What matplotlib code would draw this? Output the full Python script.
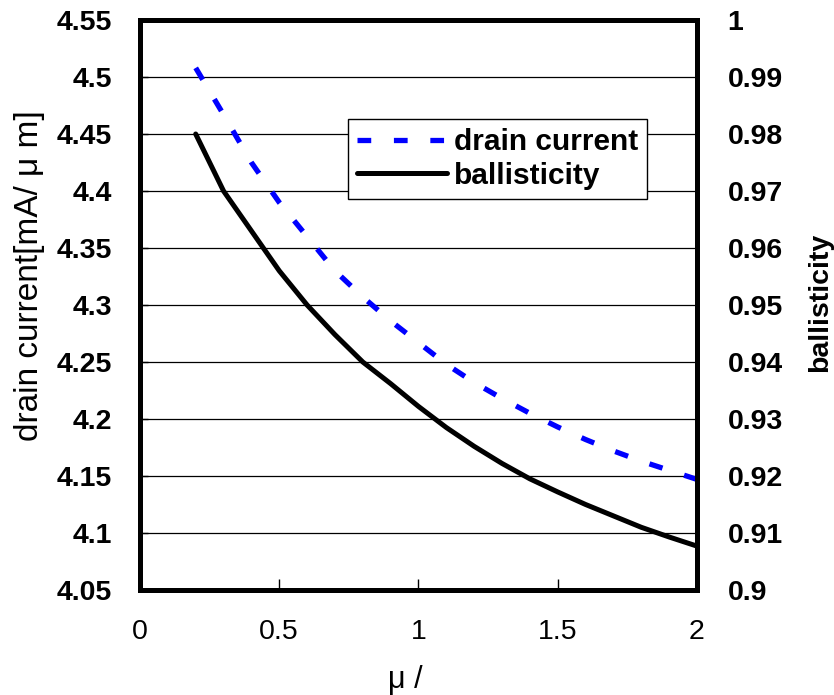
import matplotlib
matplotlib.use("Agg")
import matplotlib.pyplot as plt
from matplotlib.lines import Line2D

mu = [0.2, 0.3, 0.4, 0.5, 0.6, 0.7, 0.8, 0.9, 1.0, 1.1, 1.2, 1.3, 1.4, 1.5, 1.6, 1.7, 1.8, 1.9, 2.0]
drain_current = [4.508, 4.467, 4.425, 4.390, 4.360, 4.330, 4.307, 4.286, 4.267, 4.248,
                 4.232, 4.218, 4.205, 4.193, 4.182, 4.172, 4.163, 4.155, 4.147]
ballisticity = [0.9800, 0.9700, 0.9630, 0.9560, 0.9500, 0.9448, 0.9400, 0.9362, 0.9322, 0.9285,
                0.9252, 0.9222, 0.9195, 0.9172, 0.9150, 0.9130, 0.9110, 0.9093, 0.9077]

x_ticks = [0, 0.5, 1, 1.5, 2]
x_ticklabels = ["0", "0.5", "1", "1.5", "2"]
left_ticks = [4.05, 4.1, 4.15, 4.2, 4.25, 4.3, 4.35, 4.4, 4.45, 4.5, 4.55]
left_ticklabels = ["4.05", "4.1", "4.15", "4.2", "4.25", "4.3", "4.35", "4.4", "4.45", "4.5", "4.55"]
right_ticks = [0.9, 0.91, 0.92, 0.93, 0.94, 0.95, 0.96, 0.97, 0.98, 0.99, 1.0]
right_ticklabels = ["0.9", "0.91", "0.92", "0.93", "0.94", "0.95", "0.96", "0.97", "0.98", "0.99", "1"]

fam = ["Liberation Sans", "DejaVu Sans"]

fig = plt.figure(figsize=(8.34, 6.95), dpi=100)
ax = fig.add_axes([140 / 834, 1 - 590 / 695, (697 - 140) / 834, (590 - 20) / 695])
ax2 = ax.twinx()

ax.plot(mu, drain_current, color="#0000ff", lw=3.8, linestyle=(0, (2.6, 4.3)),
        dash_capstyle="butt", label="drain current")
ax2.plot(mu, ballisticity, color="black", lw=3.6, solid_capstyle="round",
         solid_joinstyle="round", label="ballisticity")

ax.set_xlim(0, 2)
ax.set_ylim(4.05, 4.55)
ax2.set_ylim(0.9, 1.0)

ax.set_xticks(x_ticks)
ax.set_xticklabels(x_ticklabels, fontsize=20.5, family=fam)
ax.set_yticks(left_ticks)
ax.set_yticklabels(left_ticklabels, fontsize=20.5, fontweight="bold", family=fam)
ax2.set_yticks(right_ticks)
ax2.set_yticklabels(right_ticklabels, fontsize=20.5, fontweight="bold", family=fam)

ax.yaxis.grid(True, color="black", lw=0.9)
ax.set_axisbelow(True)
ax.tick_params(axis="x", direction="in", length=8, width=1, pad=21, top=False)
ax.tick_params(axis="y", direction="in", length=6, width=1, pad=20)
ax2.tick_params(axis="y", direction="in", length=0, pad=22)

for a in (ax, ax2):
    for s in a.spines.values():
        s.set_linewidth(3.6)
        s.set_color("black")

ax.set_ylabel("drain current[mA/ μ m]", fontsize=24, family=fam)
ax.yaxis.label.set_va("center")
ax.yaxis.set_label_coords((29 - 140) / 557, (590 - 276) / 570)
ax2.set_ylabel("ballisticity", fontsize=20.5, fontweight="bold", family=fam)
ax2.yaxis.label.set_va("center")
ax2.yaxis.set_label_coords((820 - 140) / 557, (590 - 302) / 570)
ax.set_xlabel("μ /", fontsize=22, family=fam)
ax.xaxis.label.set_va("center")
ax.xaxis.set_label_coords((405 - 140) / 557, (590 - 680) / 570)

handles = [Line2D([], [], color="#0000ff", lw=3.8, linestyle=(0, (2.6, 4.3)), dash_capstyle="butt"),
           Line2D([], [], color="black", lw=3.6, solid_capstyle="round")]
leg = ax2.legend(handles, ["drain current", "ballisticity"],
                 loc="upper left", bbox_to_anchor=((348 - 140) / 557, (590 - 119) / 570),
                 fancybox=False, framealpha=1, edgecolor="black", borderaxespad=0,
                 prop={"family": fam, "size": 21.5, "weight": "bold"}, handlelength=3.0,
                 handletextpad=0.25, borderpad=0.3, labelspacing=0.2)
leg.get_frame().set_linewidth(1.0)

fig.savefig("out.png", dpi=100)
